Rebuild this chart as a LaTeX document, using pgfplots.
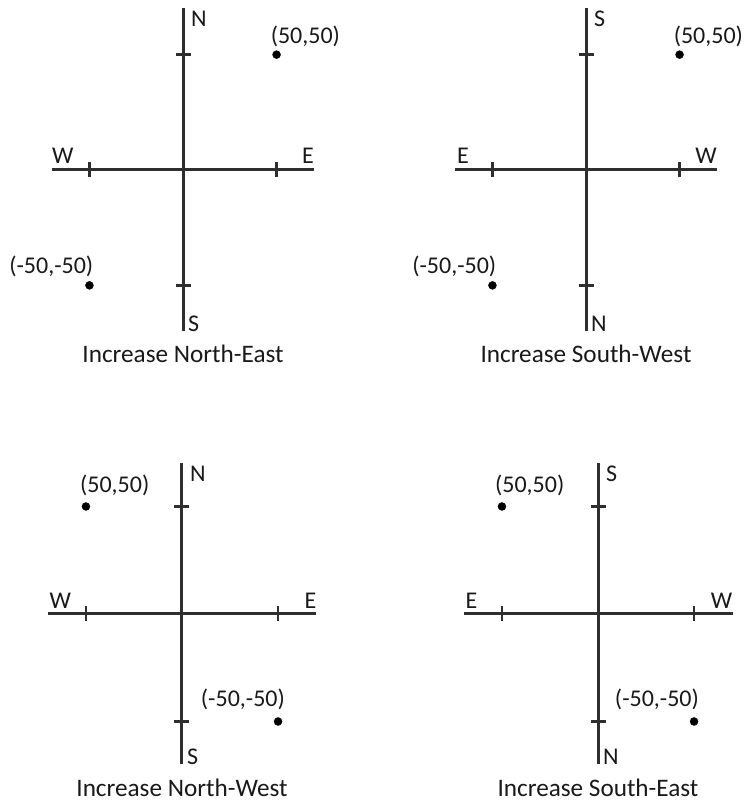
\documentclass[border=0pt]{standalone}
\usepackage{fontspec}
\setmainfont{Carlito}
\usepackage{pgfplots}
\pgfplotsset{compat=1.18}
\pgfplotsset{
  compass/.style={
    scale only axis, width=262bp, height=323bp,
    xmin=-70, xmax=70, ymin=-70, ymax=70,
    axis lines=middle,
    axis line style={-, line width=3bp, black!82},
    xtick={-50,50}, ytick={-50,50},
    xticklabels={}, yticklabels={},
    major tick length=15bp, tick align=center,
    tick style={line width=2.5bp, black!82},
    anchor=origin, clip=false,
  },
  lower/.style={width=269bp, height=301bp, x dir=reverse},
}
\tikzset{lab/.style={font=\fontsize{24bp}{28bp}\selectfont, text=black!90, inner sep=0pt},
  ttl/.style={font=\fontsize{25.2bp}{30bp}\selectfont, text=black!90, inner sep=0pt},
  axl/.style={line width=3bp, black!82, no markers}}
\begin{document}
\begin{tikzpicture}
\useasboundingbox (0,0) rectangle (746bp,803bp);
% Panel 1: Increase North-East
\begin{axis}[compass, at={(183bp,633bp)}]
\addplot[axl] coordinates {(-70,0) (70,0)};
\addplot[axl] coordinates {(0,-70) (0,70)};
\addplot[only marks, mark=*, mark size=4bp, black] coordinates {(50,50) (-50,-50)};
\node[lab, anchor=north west, xshift=8bp, yshift=-2bp] at (axis cs:0,70) {N};
\node[lab, anchor=south west, xshift=5bp] at (axis cs:0,-70) {S};
\node[lab, anchor=south east, yshift=6bp] at (axis cs:70,0) {E};
\node[lab, anchor=south west, yshift=6bp] at (axis cs:-70,0) {W};
\node[lab, anchor=south west, xshift=-6bp, yshift=8bp] at (axis cs:50,50) {(50,50)};
\node[lab, anchor=south east, xshift=4bp, yshift=8bp] at (axis cs:-50,-50) {(-50,-50)};
\node[ttl, anchor=base, yshift=-31bp] at (axis cs:0,-70) {Increase North-East};
\end{axis}
% Panel 2: Increase South-West
\begin{axis}[compass, at={(586bp,633bp)}]
\addplot[axl] coordinates {(-70,0) (70,0)};
\addplot[axl] coordinates {(0,-70) (0,70)};
\addplot[only marks, mark=*, mark size=4bp, black] coordinates {(50,50) (-50,-50)};
\node[lab, anchor=north west, xshift=8bp, yshift=-2bp] at (axis cs:0,70) {S};
\node[lab, anchor=south west, xshift=5bp] at (axis cs:0,-70) {N};
\node[lab, anchor=south east, yshift=6bp] at (axis cs:70,0) {W};
\node[lab, anchor=south west, xshift=2bp, yshift=6bp] at (axis cs:-70,0) {E};
\node[lab, anchor=south west, xshift=-6bp, yshift=8bp] at (axis cs:50,50) {(50,50)};
\node[lab, anchor=south east, xshift=4bp, yshift=8bp] at (axis cs:-50,-50) {(-50,-50)};
\node[ttl, anchor=base, yshift=-31bp] at (axis cs:0,-70) {Increase South-West};
\end{axis}
% Panel 3: Increase North-West
\begin{axis}[compass, lower, at={(182bp,189bp)}]
\addplot[axl] coordinates {(-70,0) (70,0)};
\addplot[axl] coordinates {(0,-70) (0,70)};
\addplot[only marks, mark=*, mark size=4bp, black] coordinates {(50,50) (-50,-50)};
\node[lab, anchor=north west, xshift=8bp, yshift=-2bp] at (axis cs:0,70) {N};
\node[lab, anchor=south west, xshift=5bp] at (axis cs:0,-70) {S};
\node[lab, anchor=south east, yshift=5bp] at (axis cs:-70,0) {E};
\node[lab, anchor=south west, xshift=2bp, yshift=5bp] at (axis cs:70,0) {W};
\node[lab, anchor=south west, xshift=-6bp, yshift=10bp] at (axis cs:50,50) {(50,50)};
\node[lab, anchor=south east, xshift=7bp, yshift=11bp] at (axis cs:-50,-50) {(-50,-50)};
\node[ttl, anchor=base, yshift=-32.5bp] at (axis cs:0,-70) {Increase North-West};
\end{axis}
% Panel 4: Increase South-East
\begin{axis}[compass, lower, at={(598bp,189bp)}]
\addplot[axl] coordinates {(-70,0) (70,0)};
\addplot[axl] coordinates {(0,-70) (0,70)};
\addplot[only marks, mark=*, mark size=4bp, black] coordinates {(50,50) (-50,-50)};
\node[lab, anchor=north west, xshift=8bp, yshift=-2bp] at (axis cs:0,70) {S};
\node[lab, anchor=south west, xshift=5bp] at (axis cs:0,-70) {N};
\node[lab, anchor=south east, yshift=5bp] at (axis cs:-70,0) {W};
\node[lab, anchor=south west, xshift=2bp, yshift=5bp] at (axis cs:70,0) {E};
\node[lab, anchor=south west, xshift=-7bp, yshift=10bp] at (axis cs:50,50) {(50,50)};
\node[lab, anchor=south east, xshift=5bp, yshift=11bp] at (axis cs:-50,-50) {(-50,-50)};
\node[ttl, anchor=base, yshift=-32.5bp] at (axis cs:0,-70) {Increase South-East};
\end{axis}
\end{tikzpicture}
\end{document}
